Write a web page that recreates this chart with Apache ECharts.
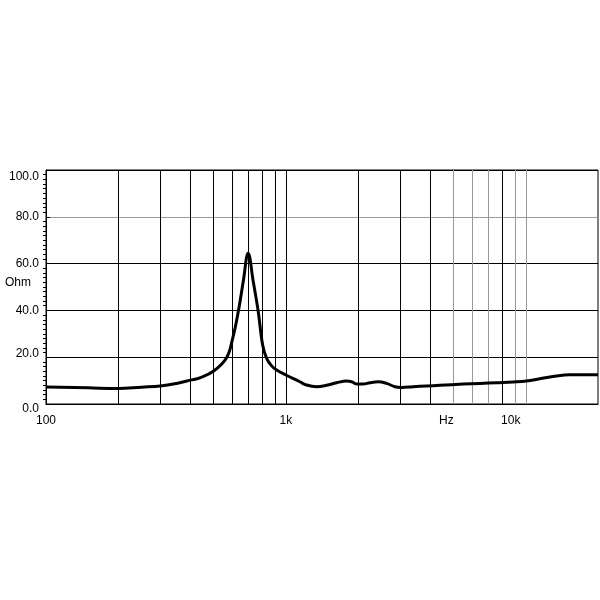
<!DOCTYPE html>
<html>
<head>
<meta charset="utf-8">
<script src="https://cdn.jsdelivr.net/npm/echarts@6/dist/echarts.min.js"></script>
<style>
    html, body { margin: 0; padding: 0; background: #fff; }
    #chart { width: 600px; height: 600px; }
</style>
</head>
<body>
<div id="chart"></div>
<script>
// impedance curve
var freqs = [100, 150, 200, 250, 300, 350, 400, 438, 500, 566, 600, 633, 664, 696, 731, 767, 800, 831, 872, 915, 1000, 1143, 1220, 1342, 1478, 1627, 1790, 1878, 1983, 2100, 2239, 2425, 2628, 2845, 3034, 3390, 3857, 4383, 5479, 6433, 7551, 8854, 10070, 11433, 13420, 15250, 17900, 20000];
var ohms  = [7.3, 6.9, 6.6, 7.2, 7.7, 8.8, 10.2, 11.2, 14.1, 19.8, 28, 39.4, 52.3, 64.4, 52.3, 39.4, 25.2, 19.5, 16.3, 14.5, 12.4, 9.5, 8.1, 7.4, 8.0, 9.1, 9.8, 9.5, 8.5, 8.5, 9.1, 9.5, 8.8, 7.4, 7.1, 7.4, 7.7, 8.0, 8.5, 8.8, 9.1, 9.4, 9.8, 10.8, 12, 12.5, 12.5, 12.5];

// vertical grid lines
var darkLines = [200, 300, 400, 500, 600, 700, 800, 900, 1000, 2000, 3000, 4000, 8000];
var grayLines = [5000, 6000, 7000, 9000, 10000];
var xLabels = {100: '100', 1000: '1k', 10000: '{s|10k}'};
// y labels sit a little off their lines in the original
var yLabels = {0: '{lo|0.0}', 20: '{hi|20.0}', 40: '40.0', 60: '60.0', 80: '80.0', 100: '{top|100.0}'};

var font = 'Liberation Sans, Arial, sans-serif';

var lines = [];
darkLines.forEach(function (f) {
    lines.push({xAxis: f, lineStyle: {color: '#000'}});
});
grayLines.forEach(function (f) {
    lines.push({xAxis: f, lineStyle: {color: '#999'}});
});

function txt(pad) {
    return {color: '#000', fontSize: 12, fontFamily: font, padding: pad};
}

var myChart = echarts.init(document.getElementById('chart'));
myChart.setOption({
    animation: false,
    grid: {
        left: 46, top: 170, right: 2, bottom: 196,
        outerBoundsMode: 'none',
        containLabel: false,
        show: true, borderColor: '#000', borderWidth: 1
    },
    xAxis: {
        type: 'log',
        logBase: 10,
        min: 100,
        max: 20000,
        axisLine: {lineStyle: {color: '#000'}},
        axisTick: {show: false},
        splitLine: {show: false},
        axisLabel: {
            color: '#000', fontSize: 12, fontFamily: font, margin: 11,
            showMinLabel: true, showMaxLabel: true,
            formatter: function (v) { return xLabels[Math.round(v)] || ''; },
            rich: {s: txt([0, 30, 0, 0])}
        }
    },
    yAxis: {
        type: 'value',
        min: 0, max: 100, interval: 20,
        axisLine: {show: true, lineStyle: {color: '#000'}},
        axisTick: {show: true, inside: true, length: 4, lineStyle: {color: '#000'}},
        minorTick: {show: true, splitNumber: 10, length: -3, lineStyle: {color: '#000'}},
        splitLine: {show: true, lineStyle: {color: ['#000', '#000', '#000', '#000', '#999', '#000']}},
        axisLabel: {
            color: '#000', fontSize: 12, fontFamily: font, margin: 7,
            showMinLabel: true, showMaxLabel: true,
            formatter: function (v) { return yLabels[Math.round(v)]; },
            rich: {
                lo: txt([10, 0, 0, 0]),
                hi: txt([0, 0, 7, 0]),
                top: txt([13, 0, 0, 0])
            }
        }
    },
    graphic: [{
        type: 'text', left: 5, top: 277,
        style: {text: 'Ohm', fill: '#000', font: '12px ' + font}
    }, {
        type: 'text', left: 439, top: 415,
        style: {text: 'Hz', fill: '#000', font: '12px ' + font}
    }],
    series: [{
        type: 'line',
        data: freqs.map(function (f, i) { return [f, ohms[i]]; }),
        showSymbol: false,
        smooth: 0.4,
        lineStyle: {color: '#000', width: 3},
        markLine: {
            silent: true,
            symbol: 'none',
            label: {show: false},
            lineStyle: {type: 'solid', width: 1},
            data: lines
        },
        z: 5
    }]
});
</script>
</body>
</html>
